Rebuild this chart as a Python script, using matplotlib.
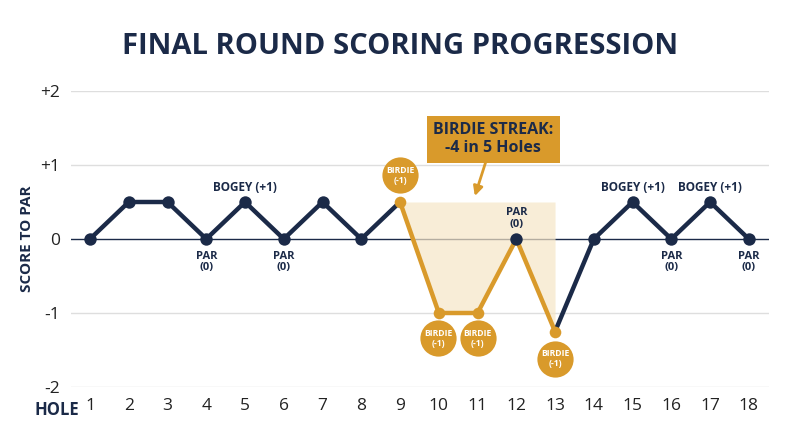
import numpy as np
import matplotlib
matplotlib.use("Agg")
import matplotlib.pyplot as plt

# score to par after each hole (final round)
holes = list(range(1, 19))
scores = [0, 0.5, 0.5, 0, 0.5, 0, 0.5, 0, 0.5, -1, -1, 0, -1.25, 0, 0.5, 0, 0.5, 0]
y_ticks = [2, 1, 0, -1, -2]
y_tick_labels = ["+2", "+1", "0", "-1", "-2"]

streak_holes = [9, 10, 11, 12, 13]
birdie_holes = [9, 10, 11, 13]
bogey_labels = [5, 15, 17]
par_below = [4, 6, 16, 18]

NAVY = "#1b2a48"
GOLD = "#d99a2b"
SHADE = "#f6e6c6"

plt.rcParams["font.family"] = ["Open Sans", "DejaVu Sans"]

fig = plt.figure(figsize=(8, 4.47), dpi=100)
ax = fig.add_axes([71 / 800, 60 / 447, 698 / 800, 296 / 447])

ax.set_xlim(0.51, 18.52)
ax.set_ylim(-2, 2)

# grid
for yv in y_ticks:
    if yv == 0:
        ax.axhline(yv, color=NAVY, lw=1.0, zorder=1)
    else:
        ax.axhline(yv, color="#dedede", lw=1.0, zorder=0)

# shaded streak area
sx = np.array(streak_holes)
sy = np.array([scores[h - 1] for h in streak_holes])
ax.fill_between(sx, sy, 0.5, color=SHADE, alpha=0.7, lw=0, zorder=1)

# navy line segments
ax.plot(holes[:9], scores[:9], color=NAVY, lw=3.2, zorder=3, solid_capstyle="round")
ax.plot(holes[12:], scores[12:], color=NAVY, lw=3.2, zorder=3, solid_capstyle="round")
# gold streak segment
ax.plot(sx, sy, color=GOLD, lw=3.2, zorder=4, solid_capstyle="round")

# markers
navy_pts = [h for h in holes if h not in birdie_holes]
ax.scatter(navy_pts, [scores[h - 1] for h in navy_pts], s=80, color=NAVY, zorder=5, lw=0)
ax.scatter(birdie_holes, [scores[h - 1] for h in birdie_holes], s=70, color=GOLD, zorder=5, lw=0)

# birdie badges
badge_pos = {9: (9, 0.86), 10: (9.98, -1.34), 11: (11.0, -1.34), 13: (13.0, -1.62)}
for h in birdie_holes:
    bx, by = badge_pos[h]
    ax.scatter([bx], [by], s=680, color=GOLD, zorder=6, lw=0, clip_on=False)
    ax.text(bx, by, "BIRDIE\n(-1)", color="white", fontsize=6.2, fontweight="bold",
            ha="center", va="center", zorder=7, linespacing=1.15)

# bogey / par labels
for h in bogey_labels:
    ax.text(h, 0.70, "BOGEY (+1)", color=NAVY, fontsize=8.5, fontweight="bold",
            ha="center", va="center", zorder=7)
for h in par_below:
    ax.text(h, -0.31, "PAR\n(0)", color=NAVY, fontsize=8, fontweight="bold",
            ha="center", va="center", zorder=7, linespacing=1.1)
ax.text(12, 0.28, "PAR\n(0)", color=NAVY, fontsize=8, fontweight="bold",
        ha="center", va="center", zorder=7, linespacing=1.1)

# streak callout
ax.annotate("BIRDIE STREAK:\n-4 in 5 Holes", xy=(10.93, 0.58), xytext=(11.4, 1.35),
            color=NAVY, fontsize=11.5, fontweight="bold", ha="center", va="center",
            linespacing=1.2, zorder=8,
            bbox=dict(boxstyle="square,pad=0.4", fc=GOLD, ec="none"),
            arrowprops=dict(arrowstyle="-|>", color=GOLD, lw=2, mutation_scale=14,
                            shrinkA=0, shrinkB=0))

# axes styling
ax.set_yticks(y_ticks)
ax.set_yticklabels(y_tick_labels, fontsize=12.5, color="#222222")
ax.set_xticks(holes)
ax.set_xticklabels([str(h) for h in holes], fontsize=12.5, color="#222222")
ax.tick_params(length=0, pad=8)
for sp in ax.spines.values():
    sp.set_visible(False)

ax.set_ylabel("SCORE TO PAR", color=NAVY, fontsize=11, fontweight="bold", labelpad=4)
fig.text(57 / 800, 1 - 410 / 447, "HOLE", color=NAVY, fontsize=12, fontweight="bold",
         ha="center", va="center")

fig.text(0.5, 1 - 47 / 447, "FINAL ROUND SCORING PROGRESSION", color=NAVY,
         fontsize=21, fontweight="bold", ha="center", va="center")

fig.savefig("out.png", dpi=100, facecolor="white")
